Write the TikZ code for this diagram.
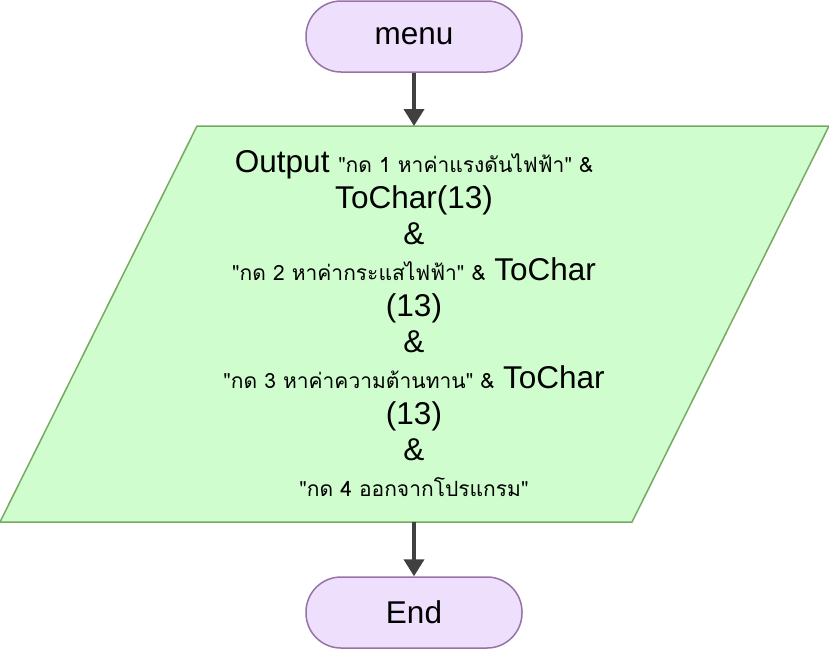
\documentclass[tikz,border=0pt]{standalone}
\usepackage{fontspec}
\setmainfont{Liberation Sans}
\newfontfamily\thaifont[Script=Thai]{Loma}
\usetikzlibrary{arrows.meta}
\definecolor{termfill}{HTML}{EEDFFD}
\definecolor{termline}{HTML}{9673A6}
\definecolor{iofill}{HTML}{CFFDCD}
\definecolor{ioline}{HTML}{77A963}
\definecolor{flowline}{HTML}{404040}
\newcommand{\bigtxt}{\fontsize{31.5}{36}\selectfont}
\newcommand{\smtxt}[1]{{\thaifont\fontsize{21}{36}\selectfont #1}}
\tikzset{
  term/.style={draw=termline, fill=termfill, line width=1.5pt,
    rounded corners=35pt, minimum width=216pt, minimum height=71pt,
    font=\bigtxt, inner sep=0pt},
  io/.style={draw=ioline, fill=iofill, line width=1.5pt},
  flow/.style={draw=flowline, line width=4pt,
    -{Triangle[width=20pt,length=17pt]}},
}
\begin{document}
\begin{tikzpicture}[x=1pt,y=-1pt]
\useasboundingbox (0,0) rectangle (829,649);
% start and end terminals
\node[term] (menu) at (414,36.5) {menu};
\node[term] (stop) at (414,612.5) {End};
% output parallelogram
\draw[io] (197,126) -- (829,126) -- (632,522) -- (0,522) -- cycle;
\coordinate (ptop) at (414,126);
\coordinate (pbot) at (414,522);
\node[align=center, font=\bigtxt, inner sep=0pt] (out) at (414,324) {%
Output \smtxt{"กด 1 หาค่าแรงดันไฟฟ้า" \&}\\
ToChar(13)\\
\&\\
\smtxt{"กด 2 หาค่ากระแสไฟฟ้า" \&} ToChar\\
(13)\\
\&\\
\smtxt{"กด 3 หาค่าความต้านทาน" \&} ToChar\\
(13)\\
\&\\
\smtxt{"กด 4 ออกจากโปรแกรม"}};
% connectors
\draw[flow] (menu) -- (ptop);
\draw[flow] (pbot) -- (stop);
\end{tikzpicture}
\end{document}
